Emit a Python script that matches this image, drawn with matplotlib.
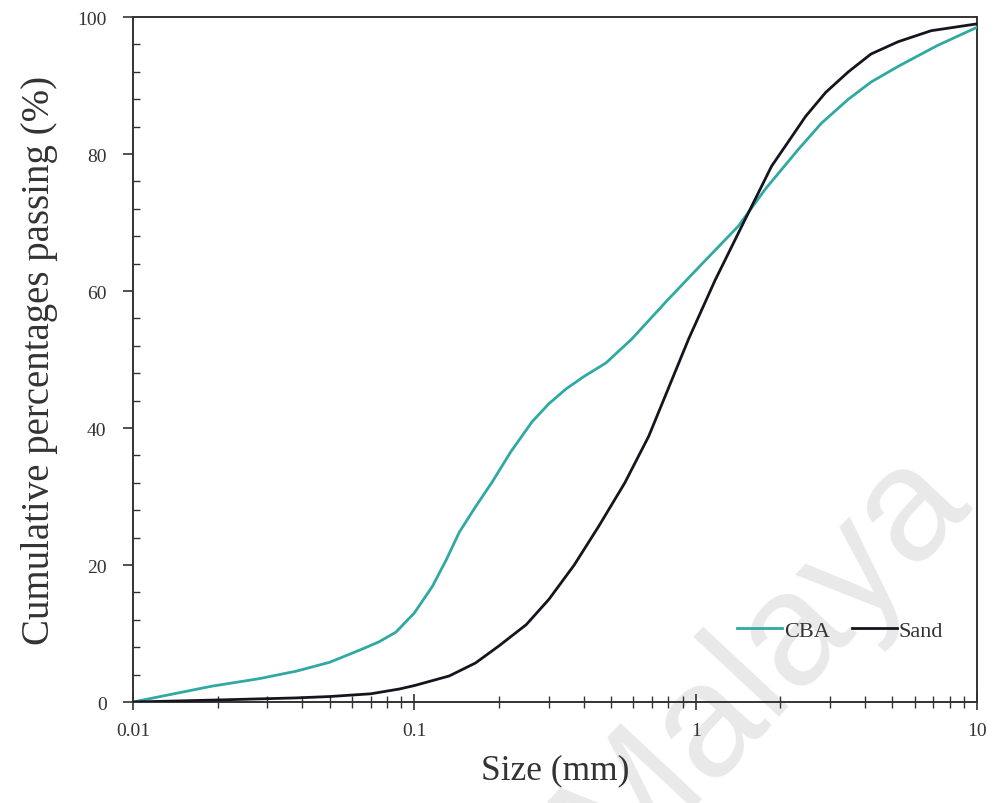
"""Particle size distribution chart: CBA vs Sand."""

import matplotlib
matplotlib.use("Agg")
import matplotlib.pyplot as plt
from matplotlib.ticker import FixedLocator, FixedFormatter, LogLocator, MultipleLocator, NullFormatter

# values
cba_size = [0.01, 0.019, 0.028, 0.038, 0.05, 0.065, 0.075, 0.086, 0.1, 0.116,
            0.13, 0.1445, 0.165, 0.189, 0.22, 0.262, 0.3, 0.346, 0.4, 0.48,
            0.593, 0.783, 1.0, 1.42, 1.77, 2.32, 2.8, 3.49, 4.2, 5.25, 7.2, 10]
cba_pass = [0, 2.3, 3.4, 4.5, 5.8, 7.7, 8.8, 10.2, 13.0, 16.9,
            20.8, 24.8, 28.5, 32.1, 36.5, 40.9, 43.5, 45.7, 47.5, 49.5,
            53.0, 58.4, 63.0, 69.5, 74.9, 80.7, 84.5, 88.0, 90.5, 92.8, 95.8, 98.5]

sand_size = [0.01, 0.02, 0.038, 0.05, 0.07, 0.0885, 0.1, 0.133, 0.165, 0.2,
             0.25, 0.301, 0.37, 0.453, 0.56, 0.681, 0.8, 0.944, 1.17, 1.46,
             1.86, 2.46, 2.9, 3.49, 4.2, 5.25, 6.87, 10]
sand_pass = [0, 0.3, 0.6, 0.8, 1.2, 1.9, 2.4, 3.8, 5.7, 8.2,
             11.3, 15.0, 20.0, 25.7, 32.0, 38.8, 45.8, 53.0, 61.5, 69.5,
             78.2, 85.5, 89.0, 92.0, 94.6, 96.4, 98.0, 99.0]

x_ticks = [0.01, 0.1, 1, 10]
x_tick_labels = ["0.01", "0.1", "1", "10"]
y_ticks = [0, 20, 40, 60, 80, 100]

plt.rcParams["font.family"] = ["Liberation Serif", "DejaVu Serif"]

fig = plt.figure(figsize=(10, 8.04), dpi=100)
ax = fig.add_axes([0.133, 0.1256, 0.844, 0.852])

ax.plot(cba_size, cba_pass, color="#2fa9a2", linewidth=2.0, label="CBA", zorder=3)
ax.plot(sand_size, sand_pass, color="#151520", linewidth=2.0, label="Sand", zorder=3)

ax.set_xscale("log")
ax.set_xlim(0.01, 10)
ax.set_ylim(0, 100)

ax.xaxis.set_major_locator(FixedLocator(x_ticks))
ax.xaxis.set_major_formatter(FixedFormatter(x_tick_labels))
ax.xaxis.set_minor_locator(LogLocator(base=10, subs=range(2, 10)))
ax.xaxis.set_minor_formatter(NullFormatter())
ax.yaxis.set_major_locator(FixedLocator(y_ticks))
ax.yaxis.set_minor_locator(MultipleLocator(4))

ax.tick_params(which="both", color="#333333", labelsize=14, labelcolor="#333333",
               top=False, right=False)
ax.tick_params(axis="x", which="major", direction="inout", length=11, width=1.2, pad=9)
ax.tick_params(axis="x", which="minor", direction="inout", length=8, width=1.0)
ax.tick_params(axis="y", which="major", direction="out", length=7, width=1.2, pad=12)
ax.tick_params(axis="y", which="minor", direction="in", length=5, width=1.0)
for side in ax.spines.values():
    side.set_linewidth(1.4)
    side.set_color("#333333")

ax.set_xlabel("Size (mm)", fontsize=25.5, color="#333333", labelpad=10)
ax.set_ylabel("Cumulative percentages passing (%)", fontsize=28, color="#333333", labelpad=14)

leg = ax.legend(loc="center", ncol=2, frameon=False, fontsize=16,
                handlelength=2.0, handletextpad=0.1, columnspacing=1.0,
                bbox_to_anchor=(0.838, 0.104))
for t in leg.get_texts():
    t.set_color("#333333")

# faint repository watermark, kept behind the curves
ax.text(0.995, 0.48, "Malaya", transform=fig.transFigure, fontsize=116,
        color="#e9e9e9", family="Liberation Sans", rotation=47,
        ha="right", va="top", zorder=0, clip_on=False)

fig.savefig("out.png", dpi=100)
